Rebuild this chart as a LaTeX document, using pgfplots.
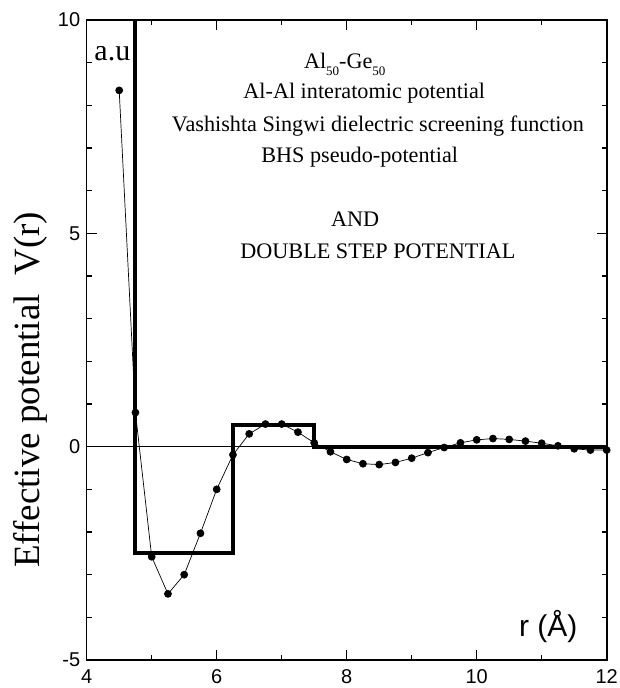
\documentclass[border=0pt]{standalone}
\usepackage{fontspec}
\setmainfont{Liberation Serif}
\setsansfont{Liberation Sans}
\usepackage{pgfplots}
\pgfplotsset{compat=1.18}

% pseudo-potential (dots) and double step potential
\pgfplotstableread{
r V
4.5 8.35
4.75 0.8
5.0 -2.58
5.25 -3.45
5.5 -3.0
5.75 -2.03
6.0 -1.0
6.25 -0.19
6.5 0.30
6.75 0.53
7.0 0.53
7.25 0.34
7.5 0.09
7.75 -0.12
8.0 -0.30
8.25 -0.40
8.5 -0.42
8.75 -0.37
9.0 -0.27
9.25 -0.14
9.5 -0.02
9.75 0.09
10.0 0.16
10.25 0.19
10.5 0.17
10.75 0.13
11.0 0.08
11.25 0.02
11.5 -0.05
11.75 -0.08
12.0 -0.08
}\bhs

\pgfplotstableread{
r V
4.75 10.5
4.75 -2.5
6.25 -2.5
6.25 0.5
7.5 0.5
7.5 0
12 0
}\step

\newcommand\fs[1]{\fontsize{#1}{#1}\selectfont}
\newcommand\sub[1]{\raisebox{-0.3em}{\fs{13}#1}}

\begin{document}
\begin{tikzpicture}
\useasboundingbox (-86.7pt,-28pt) rectangle (533.3pt,660pt);
\begin{axis}[
    at={(0,0)}, anchor=south west,
    scale only axis,
    width=520pt, height=640pt,
    xmin=4, xmax=12, ymin=-5, ymax=10,
    xtick={4,6,...,12}, ytick={-5,0,5,10},
    minor x tick num=1, minor y tick num=4,
    tick align=inside,
    major tick length=10pt, minor tick length=5pt,
    every tick/.style={black, line width=1.2pt},
    axis line style={line width=1.6pt},
    /pgf/number format/assume math mode=true,
    tick label style={font=\fs{20}\sffamily},
    xticklabel style={yshift=-6pt},
    yticklabel style={xshift=-3pt},
    ylabel={Effective potential\ \ V(r)},
    ylabel style={font=\fs{37}, at={(axis description cs:-0.109,0.422)}, anchor=center},
    clip=true,
]
\addplot[black, line width=0.6pt] coordinates {(4,0) (12,0)};
\addplot[black, line width=4pt, line join=miter] table[x=r, y=V] {\step};
\addplot[black, line width=0.7pt, mark=*, mark size=3.5pt] table[x=r, y=V] {\bhs};

\node[anchor=base west, font=\fs{30}] at (axis cs:4.065,9.06) {a.u};
\node[anchor=base, font=\fs{22.2}] at (axis cs:7.97,8.86) {Al\sub{50}-Ge\sub{50}};
\node[anchor=base, font=\fs{22.2}] at (axis cs:8.27,8.15) {Al-Al interatomic potential};
\node[anchor=base, font=\fs{22.2}] at (axis cs:8.48,7.39) {Vashishta Singwi dielectric screening function};
\node[anchor=base, font=\fs{22.2}] at (axis cs:8.20,6.67) {BHS pseudo-potential};
\node[anchor=base, font=\fs{22.2}] at (axis cs:8.13,5.17) {AND};
\node[anchor=base, font=\fs{22.2}] at (axis cs:8.48,4.42) {DOUBLE STEP POTENTIAL};
\node[anchor=base, font=\fs{30}\sffamily] at (axis cs:11.10,-4.46) {r (Å)};
\end{axis}
\end{tikzpicture}
\end{document}
